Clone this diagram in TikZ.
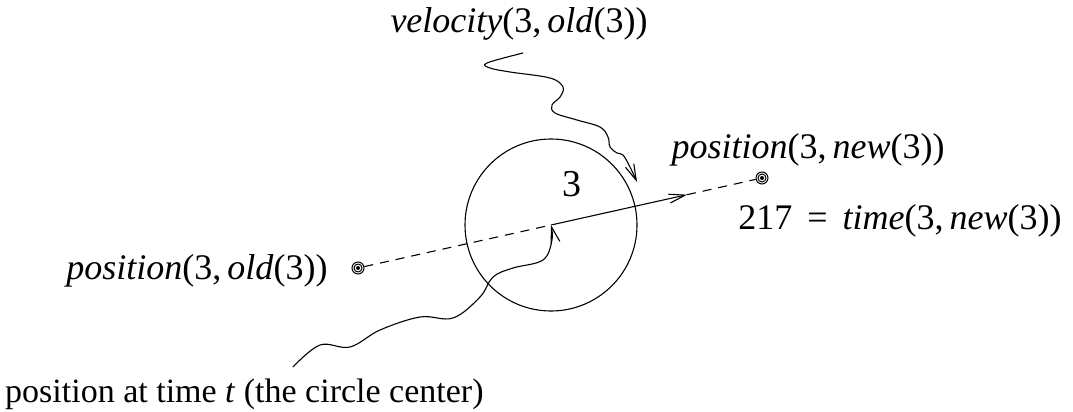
\documentclass[tikz,border=0pt]{standalone}
\usepackage{fontspec}
\setmainfont{Liberation Serif}
\usetikzlibrary{arrows.meta}
\begin{document}
\begin{tikzpicture}[x=1pt,y=-1pt,
  lbl/.style={font=\fontsize{36}{42}\selectfont, inner sep=0pt},
  btxt/.style={font=\fontsize{34}{40}\selectfont, inner sep=0pt},
  ln/.style={line width=1.1pt},
  barb/.style={-{Straight Barb[length=16pt,width=9pt,line width=1.1pt]}},
  dashln/.style={ln, dash pattern=on 9pt off 7pt},
  ring/.style={circle, draw, line width=1pt, inner sep=0pt, minimum size=#1}
]
\useasboundingbox (0,0) rectangle (1073,412);
% circle
\coordinate (c) at (551,225);
\node[circle, draw, ln, minimum size=172pt, inner sep=0pt] (circ) at (c) {};
\node[font=\fontsize{38}{44}\selectfont, inner sep=0pt] (three) at (572,184) {3};
% marker points
\node[ring=12pt] (L) at (358,268) {};
\node[ring=8pt] (L2) at (L) {};
\node[circle, fill, inner sep=0pt, minimum size=4pt] (L3) at (L) {};
\node[ring=12pt] (R) at (762,178) {};
\node[ring=8pt] (R2) at (R) {};
\node[circle, fill, inner sep=0pt, minimum size=4pt] (R3) at (R) {};
% line through centre
\coordinate (A) at (687,194.7);
\draw[dashln] (L) -- (c);
\draw[ln, barb] (c) -- (A);
\draw[dashln] (A) -- (R);
% labels
\node[lbl, anchor=base] (vel) at (519,33) {\textit{velocity}(3,\,\textit{old}(3))};
\node[lbl, anchor=base] (pnew) at (808,158) {\textit{position}(3,\,\textit{new}(3))};
\node[lbl, anchor=base] (tnew) at (900,229) {217 \,=\, \textit{time}(3,\,\textit{new}(3))};
\node[lbl, anchor=base] (pold) at (197,279) {\textit{position}(3,\,\textit{old}(3))};
\node[btxt, anchor=base west] (bot) at (5,402) {position at time \textit{t} (the circle center)};
% wavy arrows
\coordinate (w1) at (293,367);
\draw[ln, barb] plot[smooth, tension=0.6] coordinates {(w1) (320,345) (350,347) (380,330) (420,317) (453,318) (480,297) (493,277) (513,268) (543,260) (552,240) (c)};
\coordinate (v1) at (523,53);
\coordinate (v2) at (637,182);
\draw[ln, barb] plot[smooth, tension=0.6] coordinates {(v1) (487,63) (490,68) (510,72) (550,78) (563,87) (560,97) (552,105) (555,113) (577,120) (600,127) (608,137) (610,147) (617,153) (623,155) (630,167) (v2)};
\end{tikzpicture}
\end{document}
